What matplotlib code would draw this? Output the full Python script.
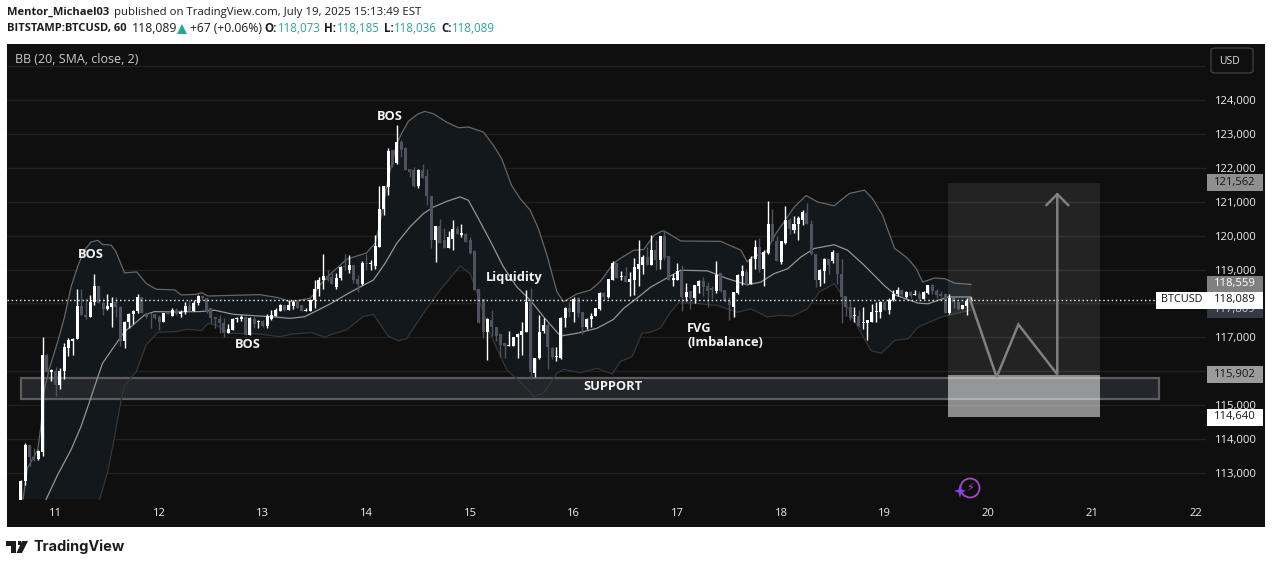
import numpy as np
import matplotlib
matplotlib.use("Agg")
import matplotlib.pyplot as plt
from matplotlib.patches import Rectangle, Polygon, FancyBboxPatch, Circle
from matplotlib.transforms import IdentityTransform

plt.rcParams['font.family'] = ['Open Sans', 'DejaVu Sans']

# ---------- data ----------
first_day = 10.6667
opens = [112100,112760,113830,113470,113420,113610,116480,115990,116000,115600,
116000,116700,116900,116940,117920,117660,117590,118030,118510,118020,
117840,117900,118030,117900,116900,117450,117680,117780,118180,117730,
117700,117680,117590,117460,117710,117640,117800,117680,117740,117920,
117780,118000,118220,118150,117860,117600,117530,117430,117120,117220,
117530,117550,117610,117070,117550,117460,117490,117330,117550,117630,
117790,117950,117800,117920,118090,117950,117780,117780,118110,118440,
118680,118820,118770,118490,118740,119080,118980,119130,118710,118570,
119180,119150,119110,119670,120770,121430,122510,122140,122750,122590,
121970,121920,121450,121940,121770,121180,119860,120290,119880,119620,
119910,120180,120030,120060,119860,119540,118440,118120,117170,117510,
117300,117100,116830,116750,116750,117000,117070,117170,118050,115950,
116380,117180,117360,116680,116420,116390,117580,117860,117750,118150,
117750,117320,117530,117630,117830,118320,118180,118690,119200,118770,
118810,118640,118690,119030,119130,119370,119130,119570,119290,119980,
119390,118700,118680,118950,118190,118380,118170,118520,118650,118500,
118450,118370,118900,118400,118070,117890,118320,118820,118930,118580,
119310,119650,119010,119500,120350,119840,119230,119780,120450,120160,
120330,120470,120680,120350,119450,118680,118960,119320,119250,119490,
118860,118210,117910,117620,117640,117420,117420,117460,117740,117750,
118040,117810,118090,118280,118410,118190,118330,118250,118270,118130,
118310,118530,118380,118280,118270,117710,118160,118030,117840,117930,
118073]
closes = [112760,113830,113470,113400,113640,116480,115990,116010,115600,116020,
116730,116920,116940,117920,117660,117590,118050,118510,118020,117840,
117920,118020,117900,116900,117460,117690,117790,118180,117730,117610,
117680,117560,117460,117710,117700,117800,117680,117750,117920,117770,
118020,118220,118150,117780,117560,117530,117410,117120,117240,117550,
117570,117590,117070,117560,117390,117490,117330,117630,117650,117820,
117950,117800,117950,118050,117880,117780,117800,118110,118440,118690,
118800,118700,118570,118740,119060,119060,119130,118690,118570,119180,
119170,119170,119690,120770,121450,122490,122070,122750,122530,121940,
121870,121450,121940,121710,121160,119880,120290,119770,119620,119960,
120180,120040,120060,119820,119490,118410,117430,117170,117530,117300,
117040,116780,116750,116770,117000,117100,117190,118050,115970,116390,
117170,117360,116710,116410,116460,117580,117860,117750,118130,117710,
117320,117530,117630,117860,118320,118180,118710,119200,118740,118810,
118640,118710,119060,119160,119370,119130,119570,119290,119980,119350,
118700,118740,118950,118190,118350,118170,118530,118650,118480,118370,
118410,118830,118370,118070,117940,118340,118830,118950,118580,119320,
119650,118980,119510,120350,119840,119250,119840,120450,120180,120330,
120530,120700,120350,119450,118680,118980,119320,119120,119520,118880,
118190,117910,117580,117640,117350,117450,117500,117750,117770,118040,
117810,118110,118290,118410,118240,118330,118230,118270,118140,118330,
118530,118360,118260,118220,117710,118160,118040,117840,117940,118060,
118089]
highs = [112810,113880,113830,113750,113690,117020,116500,116080,116140,116090,
116820,116970,116970,118440,118440,118150,118250,118860,118510,118150,
118280,118180,118180,117920,117480,117710,117800,118280,118180,117730,
117720,117700,117650,117730,117750,117880,117880,117800,118050,118100,
118100,118250,118220,118150,117860,117600,117650,117560,117390,117560,
117600,117660,117620,117590,117650,117510,117510,117690,117820,117870,
117970,117960,118100,118100,118110,117960,117880,118120,118690,118780,
119450,119000,118890,118890,119100,119470,119420,119130,118840,119250,
119470,119280,120010,121450,121450,122590,122530,123250,122820,122610,
121970,122020,121960,122100,121970,121180,120290,120500,120210,120140,
120470,120270,120330,120080,119960,119570,118440,118120,117570,117810,
117320,117100,116830,117200,117020,117140,117460,118400,118450,116400,
117660,117560,117410,116730,116710,117610,117900,118050,118200,118200,
117750,117560,117710,117880,118350,118350,118730,119260,119200,118960,
119080,118930,119330,119860,119420,119670,120010,119860,120000,120160,
119410,118880,119190,119140,118600,118380,118530,118700,118780,118630,
118500,119250,118900,118400,118190,118340,118860,119120,119020,119390,
119860,119940,119570,121010,120780,119980,119840,120870,120530,120570,
120570,120750,120950,120450,119450,119030,119350,119320,119570,119490,
119320,118210,118090,117910,117800,117910,117500,117970,118040,118070,
118060,118170,118390,118480,118420,118360,118360,118400,118370,118370,
118550,118560,118430,118360,118270,118290,118180,118030,117960,118170,
118185]
lows = [112000,112660,113200,113350,113400,113510,115990,115700,115260,115480,
115770,116450,116490,116940,117660,117530,117590,117950,118000,117660,
117810,117310,117610,116750,116680,117290,117400,117730,117730,117560,
117270,117530,117210,117450,117680,117630,117650,117610,117700,117770,
117780,117950,118100,117720,117430,117290,117120,117000,117120,117210,
117450,117490,117070,117070,117290,117290,117310,117290,117510,117630,
117780,117790,117800,117850,117860,117780,117780,117780,117880,118210,
118440,118650,118570,118440,118690,119000,118900,118590,118340,118540,
118980,118980,119030,119670,120600,121190,122020,122120,122330,121920,
121730,121430,121410,121710,120890,119620,119230,119770,119620,119620,
119570,120040,119960,119820,119470,118390,117430,116970,116320,117040,
116880,116410,116380,116750,116750,116380,116480,117160,115770,115820,
116360,117140,116060,116350,116290,116350,117310,117610,117460,117610,
117090,117260,117320,117620,117810,118100,118170,118690,118740,118690,
118640,118220,118240,118510,118880,119130,119130,119000,119020,119290,
118680,118500,118680,117770,118070,117830,118010,118310,118210,117910,
118170,118300,118340,118040,117520,117600,118270,118530,118540,118580,
119010,118930,118500,119470,119840,119250,119150,119740,120060,120080,
119880,120300,120350,119420,118480,118500,118600,118880,119190,118580,
117420,117620,117520,117450,117320,117250,116910,117440,117450,117570,
117810,117690,118070,118230,118180,118150,118170,118250,118060,118120,
118290,118290,118170,118190,117710,117690,117870,117810,117830,117650,
118036]

upper_hours = [0.5,1.5,3.9,4.6,5.4,6.6,8.5,10.1,11.6,13.1,14.7,16.2,17.8,18.9,20.9,22,24,26.8,29,31.3,35.6,37.1,40.6,41.8,43.3,49.1,55.3,59.6,62.3,66.9,68.1,69.2,71.5,75.4,80,82,83.1,85,85.8,87,88.1,89.7,92,93.5,95.5,98.6,101.3,103.6,107.1,109.4,111.3,113.6,115.6,117.9,119.8,121.8,124.1,125.6,128.7,131.8,134.1,137.2,138.8,141.9,144.2,146.6,148.5,149.3,152.8,162,166.7,168.2,169.2,172.5,174.8,179.1,181.8,184.5,188.3,191.8,195.3,197.2,199.5,202.3,203.4,205.4,207.3,208.8,211.5,213.9,216.2,220]
upper_band = [112240,113150,113690,114370,115450,116090,116870,117610,118490,119080,119570,119810,119860,119740,119720,119520,118900,118930,118590,118420,118400,118250,118270,118320,118220,118240,118260,118170,118050,118150,118310,118540,118850,119300,119490,119770,120350,121680,122070,122710,123000,123370,123590,123660,123590,123340,123180,123200,123050,122660,122270,121480,121090,120750,120210,119420,118350,118050,118280,118390,118640,119180,119330,119570,119590,120010,120140,120110,119840,119830,119570,119220,119350,119520,120060,120850,121180,120990,120880,121240,121340,121090,120600,119620,119520,119320,119030,118630,118750,118730,118600,118559]

middle_hours = [5.8,8.5,11.6,13.9,15.9,17.8,18.9,21.3,24,25.9,28.6,30.9,35.2,41.4,44.9,49.1,55.3,59.9,62.3,65.7,68.4,71.5,76.1,81.6,84.3,87,90.1,93.2,95.5,98.6,101.7,103.6,105.5,108.6,111.7,114.8,117.9,121,124.9,128.7,133.4,137.2,139.6,142.6,145.8,149.7,152.8,159,163.6,168.2,171.3,174.4,177.5,180.6,183.7,188.3,191.4,195.3,199.9,202.6,207.7,210,214.6,220]
middle_band = [112220,112950,113690,114370,115110,115840,116240,116680,117170,117360,117660,117760,117750,117760,117800,117680,117630,117590,117560,117610,117780,117980,118320,118690,119180,119770,120260,120650,120840,121010,121140,121040,120600,119860,119080,118490,118100,117610,117040,117120,117270,117530,117860,118150,118480,118760,118980,118960,118730,118550,118630,118880,119020,119370,119620,119730,119570,119120,118530,118240,118010,117990,118190,118190]

lower_hours = [18.2,20.1,21.7,23.2,24,26.7,29,31.7,36,38.3,41.8,43.3,45.2,48.3,55.3,59.9,63,67.3,70.4,71.5,75.4,79.2,81.6,85,87.4,89.3,93.2,97,101.7,104,105.9,108.6,112.5,116.4,118.7,121,124.1,125.6,129.5,133.4,136.9,138.8,141.5,143.8,145.8,148.1,150.4,152.4,157.4,161.3,165.9,169,172.9,175.6,178.7,182.1,184.9,188.3,189.9,191.4,193.8,196.8,199.2,202.3,205.4,207.7,213.1,220]
lower_band = [112220,113050,114080,115160,115580,115990,116780,117150,117170,117240,117200,117410,117360,117120,117100,117020,117100,117140,117000,117070,117220,117610,117680,117040,116900,116970,117710,118390,119100,118880,118200,117120,116040,115600,115260,115360,115940,116060,115960,116090,115920,116290,116430,117120,117150,117280,117740,118040,117990,117940,117740,117840,117600,117650,117630,117840,118340,118580,118290,117890,117300,116610,116530,116910,116960,117300,117600,117810]

price_ticks = [113000,114000,115000,116000,117000,118000,119000,120000,121000,122000,123000,124000]
day_ticks = [11,12,13,14,15,16,17,18,19,20,21,22]
last_close = 118089
support_low, support_high = 115180, 115800
support_days = (10.665, 21.65)
target_price, entry_price, stop_price = 121562, 115902, 114640
position_days = (19.615, 21.08)
path_days = [19.82, 20.08, 20.29, 20.665, 20.665]
path_prices = [118150, 115830, 117380, 115910, 121220]
head_days = [20.56, 20.665, 20.77]
head_prices = [120900, 121220, 120900]

# ---------- layout ----------
W, H = 1275, 565
fig = plt.figure(figsize=(W/100, H/100), dpi=100, facecolor='white')
def fx(x): return x/W
def fy(y): return 1-y/H
def px_text(x, y, s, **kw):
    kw.setdefault('va', 'center')
    return fig.text(fx(x), fy(y), s, **kw)
def px_rect(x0, y0, x1, y1, **kw):
    r = Rectangle((fx(x0), fy(y1)), fx(x1)-fx(x0), fy(y0)-fy(y1), transform=fig.transFigure, **kw)
    fig.add_artist(r)
    return r

PANEL = '#0f0f0f'
px_rect(7, 44, 1265, 527, fc=PANEL, ec='none', zorder=-5)

ax = fig.add_axes([fx(7), fy(500), fx(1206)-fx(7), fy(44)-fy(500)])
ax.patch.set_alpha(0)
ax.set_xlim(10.532, 22.10)
ax.set_ylim(112207, 125647)
for s in ax.spines.values():
    s.set_visible(False)
ax.yaxis.tick_right()
ax.set_yticks(price_ticks)
ax.set_yticklabels([f'{p:,}' for p in price_ticks], fontsize=8.1, color='#eeeeee')
ax.set_xticks(day_ticks)
ax.set_xticklabels([str(d) for d in day_ticks], fontsize=8.1, color='#eeeeee')
ax.tick_params(length=0, axis='y', pad=6.5)
ax.tick_params(length=0, axis='x', pad=6)
for p in price_ticks + [125000]:
    ax.axhline(p, color='#212121', lw=1, zorder=0)

def days(h):
    return first_day + np.asarray(h, float)/24

# Bollinger fill + lines
poly_x = np.r_[days(upper_hours), days(lower_hours)[::-1]]
poly_y = np.r_[upper_band, lower_band[::-1]]
ax.fill(poly_x, poly_y, fc='#12181c', ec='none', zorder=1)
ax.plot(days(upper_hours), upper_band, color='#666666', lw=0.9, zorder=2)
ax.plot(days(middle_hours), middle_band, color='#949494', lw=0.9, zorder=2)
ax.plot(days(lower_hours), lower_band, color='#363636', lw=0.9, zorder=2)

# support box
ax.add_patch(Rectangle((support_days[0], support_low), support_days[1]-support_days[0],
                       support_high-support_low, fc='#24262b', ec='#5c5c5c', lw=1.6, zorder=1.5))

# candles
o, c, hi, lo = map(np.array, (opens, closes, highs, lows))
t = days(np.arange(len(o)))
cols = np.where(c >= o, '#ffffff', '#50535f')
ax.vlines(t, lo, hi, colors=cols, lw=1, zorder=3)
ax.bar(t, np.maximum(np.abs(c-o), 35), bottom=np.minimum(o, c), width=0.029, color=cols, lw=0, zorder=3)

# last price line
ax.plot([10.532, 22.10], [last_close]*2, color='#ffffff', lw=1, ls=(0, (1, 2)), zorder=4)

# long position
ax.add_patch(Rectangle((position_days[0], entry_price), position_days[1]-position_days[0],
                       target_price-entry_price, fc='#ffffff', alpha=0.085, ec='none', zorder=5))
ax.add_patch(Rectangle((position_days[0], stop_price), position_days[1]-position_days[0],
                       entry_price-stop_price, fc='#ffffff', alpha=0.52, ec='none', zorder=5))

# forecast path
ax.plot(path_days, path_prices, color='#808080', lw=1.8, zorder=6, solid_joinstyle='miter')
ax.plot(head_days, head_prices, color='#808080', lw=1.8, zorder=6)

# annotations
ann = dict(color='#f4f4f4', fontweight='bold', fontsize=9.3, ha='center')
px_text(91, 255, 'BOS', **ann)
px_text(248, 344, 'BOS', **ann)
px_text(390, 116, 'BOS', **ann)
px_text(514, 277, 'Liquidity', **ann)
px_text(613, 387, 'SUPPORT', **ann)
px_text(687, 328, 'FVG', color='#f4f4f4', fontweight='bold', fontsize=9.3, ha='left')
px_text(687, 342, '(Imbalance)', color='#f4f4f4', fontweight='bold', fontsize=9.3, ha='left')

px_text(15, 60, 'BB (20, SMA, close, 2)', color='#cccccc', fontsize=9)

# USD button
fig.add_artist(FancyBboxPatch((fx(1211), fy(73)), fx(1253)-fx(1211), fy(48)-fy(73),
               boxstyle='round,pad=0,rounding_size=0.004', transform=fig.transFigure,
               fc=PANEL, ec='#3d3d3d', lw=1, zorder=3))
px_text(1229, 61, 'USD', color='#e0e0e0', fontsize=7.5, ha='center', zorder=4)

# price tags
fig.canvas.draw()
def tag(price, bg, fg, x0=1207, x1=1263, h=17, z=5):
    yd = ax.transData.transform((0, price))[1]
    fig.add_artist(Rectangle((x0, yd-h/2), x1-x0, h, transform=IdentityTransform(), fc=bg, ec='none', zorder=z))
    ypx = H-yd
    px_text((x0+x1)/2, ypx-0.5, f'{price:,}', color=fg, fontsize=8.1, ha='center', zorder=z+0.1)
tag(117809, '#363a45', '#d0d0d0', z=5)
tag(118559, '#808080', '#ffffff', z=6)
tag(118089, '#ffffff', '#131722', z=7)
tag(115902, '#9b9b9b', '#131722', z=5)
tag(114640, '#ffffff', '#131722', z=5)
tag(target_price, '#8f8f8f', '#131722', z=5)
yd = ax.transData.transform((0, last_close))[1]
fig.add_artist(Rectangle((1156, yd-8.5), 51, 17, transform=IdentityTransform(), fc='#ffffff', ec='none', zorder=7))
px_text(1181.5, H-yd-0.5, 'BTCUSD', color='#131722', fontsize=7.8, ha='center', zorder=7.1)

# lightning badge
fig.add_artist(Circle((970, H-488), 9.5, transform=IdentityTransform(), fc='none', ec='#a848c4', lw=1.3, zorder=4))
px_text(970, 488, '\u26a1', color='#c044c8', fontsize=8, ha='center', family=['DejaVu Sans'], zorder=4.2)
fig.add_artist(Polygon([(960, H-484), (961.5, H-489.5), (966, H-491), (961.5, H-492.5), (960, H-498),
                        (958.5, H-492.5), (954, H-491), (958.5, H-489.5)], closed=True,
                       transform=IdentityTransform(), fc='#8a3ff0', ec='none', zorder=4.1))

# header
dark = '#1c1c1c'
px_text(7, 12, 'Mentor_Michael03', color=dark, fontweight='bold', fontsize=8.0)
px_text(114, 12, 'published on TradingView.com, July 19, 2025 15:13:49 EST', color=dark, fontsize=8.2)
px_text(7, 29, 'BITSTAMP:BTCUSD, 60', color=dark, fontweight='bold', fontsize=8.0)
px_text(132, 29, '118,089', color=dark, fontsize=8.8)
fig.add_artist(Polygon([(fx(177), fy(34)), (fx(187), fy(34)), (fx(182), fy(24))], closed=True,
                       transform=fig.transFigure, fc='#26a69a', ec='none'))
px_text(190, 29, '+67 (+0.06%)', color=dark, fontsize=8.7)
teal = '#26a69a'
for lx, lab, vx, val in [(264, 'O:', 278, '118,073'), (324, 'H:', 337, '118,185'),
                         (384, 'L:', 394, '118,036'), (441, 'C:', 452, '118,089')]:
    px_text(lx, 29, lab, color=dark, fontweight='bold', fontsize=8.3)
    px_text(vx, 29, val, color=teal, fontsize=8.3)

# TradingView logo
logo = '#1c1c1c'
def lp(pts):
    fig.add_artist(Polygon([(fx(x), fy(y)) for x, y in pts], closed=True, transform=fig.transFigure, fc=logo, ec='none'))
lp([(6, 541), (16, 541), (16, 553), (11, 553), (11, 546), (6, 546)])
lp([(17.5, 541), (21, 541), (21, 545), (17.5, 545)])
lp([(22, 541), (28, 541), (22, 553), (16.5, 553)])
px_text(33, 546.5, 'TradingView', color=logo, fontweight='bold', family=['Inter', 'DejaVu Sans'], fontsize=10.5)

fig.savefig('out.png', dpi=100, facecolor='white')
